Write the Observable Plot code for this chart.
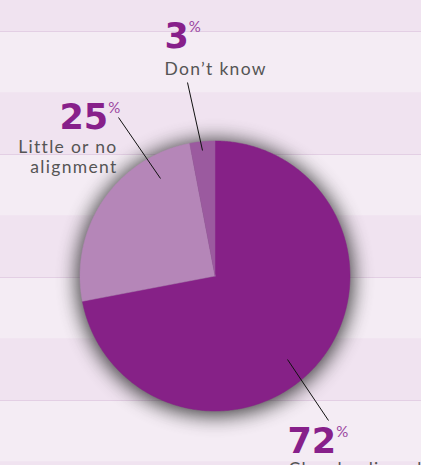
<!DOCTYPE html>
<html>
<head>
<meta charset="utf-8">
<script src="https://cdn.jsdelivr.net/npm/d3@7"></script>
<script src="https://cdn.jsdelivr.net/npm/@observablehq/plot@0.6"></script>
<style>
  html, body { margin: 0; padding: 0; overflow: hidden; background: #f0e3f0; }
  #chart svg { display: block; }
</style>
</head>
<body>
<div id="chart"></div>
<script>
// ---- data ----
const categories = ["Closely aligned", "Little or no alignment", "Don’t know"];
const values = [72, 25, 3];
const sliceColors = ["#862187", "#b586b8", "#9b5a9f"];
const labelLines = [["Closely aligned"], ["Little or no", "alignment"], ["Don’t know"]];

// ---- layout (not data) ----
const W = 421, H = 465;
const cx = 214.5, cy = 275.5, R = 135;
const labelLayout = [
  { nx: 287, ny: 452, tx: 288, ty: 474, anchor: "start", lx1: 328, ly1: 420, lx2: 287, ly2: 359 },
  { nx: 59,  ny: 128, tx: 117, ty: 172, anchor: "end",   lx1: 118, ly1: 117, lx2: 160, ly2: 178 },
  { nx: 164, ny: 47,  tx: 164, ty: 74,  anchor: "start", lx1: 187, ly1: 82,  lx2: 202, ly2: 150 }
];

const table = categories.map((c, i) => ({ category: c, value: values[i], color: sliceColors[i], lines: labelLines[i], ...labelLayout[i] }));

const arcs = d3.pie().value(d => d.value).sort(null).startAngle(0).endAngle(2 * Math.PI)(table);
const slicePolys = arcs.map(a => {
  const pts = [{ x: cx, y: cy }];
  const n = Math.max(4, Math.ceil((a.endAngle - a.startAngle) / 0.01));
  for (let k = 0; k <= n; k++) {
    const t = a.startAngle + (a.endAngle - a.startAngle) * k / n;
    pts.push({ x: cx + R * Math.sin(t), y: cy - R * Math.cos(t) });
  }
  pts.push({ x: cx, y: cy });
  return { color: a.data.color, pts };
});

// background bands
const bandH = 61.5;
const bands = d3.range(0, 9).map(i => ({ y1: -30.5 + i * bandH, y2: -30.5 + (i + 1) * bandH, dark: i % 2 === 0 }));
const bandLines = bands.filter(b => !b.dark).map(b => ({ y: b.y1 }));

// number + label texts
const numTexts = table.map(d => ({ x: d.nx, y: d.ny, text: String(d.value) }));
const textRows = table.map(d => ({ x: d.tx, y: d.ty, text: d.lines.join("\n"), anchor: d.anchor }));

const numFont = "DejaVu Sans";
const txtFont = "Lato";

const plot = Plot.plot({
  width: W, height: H,
  margin: 0,
  x: { domain: [0, W], range: [0, W], axis: null },
  y: { domain: [0, H], range: [0, H], axis: null },
  style: { background: "transparent", overflow: "visible" },
  marks: [
    Plot.rect(bands, { x1: 0, x2: W, y1: "y1", y2: "y2", fill: d => d.dark ? "#f0e3f0" : "#f4ecf4" }),
    Plot.ruleY(bandLines, { y: "y", stroke: "#e3cfe4", strokeWidth: 1 }),
    Plot.dot([{ x: cx, y: cy + 2 }], { x: "x", y: "y", r: R + 3, fill: "#1e1e1e", stroke: "none", ariaDescription: "pie-shadow" }),
    ...slicePolys.map(s => Plot.line(s.pts, { x: "x", y: "y", fill: s.color, stroke: s.color, strokeWidth: 0.5, curve: "linear" })),
    Plot.link(table, { x1: "lx1", y1: "ly1", x2: "lx2", y2: "ly2", stroke: "#111", strokeWidth: 1 }),
    Plot.text(numTexts, { x: "x", y: "y", text: "text", textAnchor: "start", lineAnchor: "bottom", fontSize: 35, fontWeight: "bold", fontFamily: numFont, fill: "#87208a", ariaDescription: "numbers" }),
    Plot.text(textRows.filter(d => d.anchor === "start"), { x: "x", y: "y", text: "text", textAnchor: "start", lineAnchor: "bottom", lineHeight: 1.09, fontSize: 17.5, fontFamily: txtFont, fill: "#555555", ariaDescription: "labels" }),
    Plot.text(textRows.filter(d => d.anchor === "end"), { x: "x", y: "y", text: "text", textAnchor: "end", lineAnchor: "bottom", lineHeight: 1.09, fontSize: 17.5, fontFamily: txtFont, fill: "#555555", ariaDescription: "labels" })
  ]
});

document.getElementById("chart").appendChild(plot);

// blur the shadow disc
const sh = plot.querySelector('g[aria-description="pie-shadow"]');
if (sh) { sh.style.filter = "blur(10px)"; sh.style.opacity = "0.85"; }

// add superscript % after each number via tspans
plot.querySelectorAll('g[aria-description="numbers"] text').forEach(t => {
  const ts = document.createElementNS("http://www.w3.org/2000/svg", "tspan");
  ts.textContent = "%";
  ts.setAttribute("font-size", "15");
  ts.setAttribute("font-weight", "normal");
  ts.setAttribute("font-family", txtFont);
  ts.setAttribute("dx", "0");
  ts.setAttribute("dy", "-16");
  ts.setAttribute("fill", "#9a45a0");
  t.appendChild(ts);
});
plot.querySelectorAll('g[aria-description="labels"] text').forEach(t => t.style.letterSpacing = "1.3px");
</script>
</body>
</html>
